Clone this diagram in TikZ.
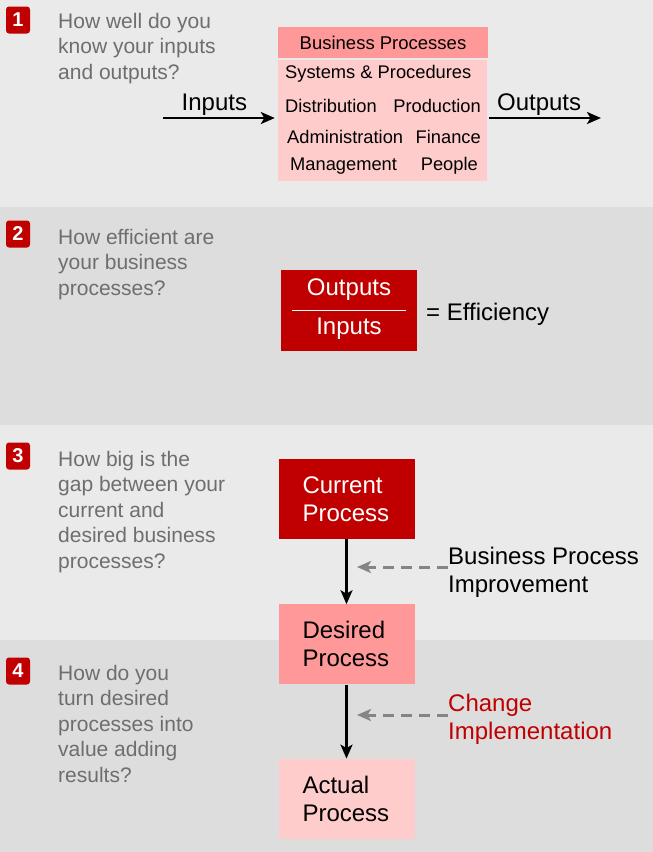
\documentclass[tikz,border=0pt]{standalone}
\usepackage{fontspec}
\setmainfont{Liberation Sans}
\usetikzlibrary{positioning,arrows.meta}

\definecolor{darkred}{HTML}{C00000}
\definecolor{midpink}{HTML}{FF9999}
\definecolor{lightpink}{HTML}{FFCCCC}
\definecolor{bandlight}{HTML}{EAEAEA}
\definecolor{banddark}{HTML}{DDDDDD}
\definecolor{qgray}{HTML}{6E6E6E}
\definecolor{dashgray}{HTML}{858585}

\begin{document}
\begin{tikzpicture}[x=1pt, y=-1pt, > = {Stealth[length=14pt, width=12pt, inset=3.5pt]}]
    \tikzset{
      badge/.style={
        fill=darkred, rounded corners=3pt, minimum width=24pt, minimum height=27pt,
        inner sep=0pt, text=white, font=\bfseries\fontsize{20}{20}\selectfont
      },
      question/.style={
        anchor=north west, inner sep=0pt, align=left, text=qgray,
        font=\fontsize{21}{25.5}\selectfont
      },
      cell/.style={inner sep=0pt, font=\fontsize{18.3}{18.3}\selectfont},
      biglabel/.style={inner sep=0pt, font=\fontsize{24}{28}\selectfont},
      procbox/.style={
        minimum width=136pt, minimum height=80pt, text width=88pt,
        inner xsep=24pt, inner ysep=0pt, align=left,
        font=\fontsize{24}{28}\selectfont
      },
      flow/.style={->, line width=2.6pt},
      gaparrow/.style={->, dashed, dash pattern=on 11pt off 7pt, dashgray, line width=3pt}
    }
    \useasboundingbox (0,0) rectangle (653,852);
    % bands
    \fill[bandlight] (0,0) rectangle (653,207);
    \fill[banddark] (0,207) rectangle (653,425);
    \fill[bandlight] (0,425) rectangle (653,640);
    \fill[banddark] (0,640) rectangle (653,852);

    % badges and questions
    \foreach \n/\y/\ty/\txt in {1/20/13/{How well do you\\know your inputs\\and outputs?},
                                2/234/229/{How efficient are\\your business\\processes?},
                                3/456/451/{How big is the\\gap between your\\current and\\desired business\\processes?},
                                4/671/665/{How do you\\turn desired\\processes into\\value adding\\results?}} {
      \node (badge\n) [badge] at (18,\y) {\n};
      \node (question\n) [question] at (58,\ty) {\txt};
    }

    % 1: business processes
    \node (bphead) [fill=midpink, minimum width=210pt, minimum height=31pt, inner sep=0pt,
                    font=\fontsize{18.5}{18.5}\selectfont] at (383,42.5) {Business Processes};
    \node (bpbody) [fill=lightpink, minimum width=209pt, minimum height=121pt, inner sep=0pt]
                   at (382.5,120.5) {};
    \node (systems) [cell, anchor=west] at (285,74) {Systems \& Procedures};
    \node (distribution) [cell, anchor=west] at (285,106) {Distribution};
    \node (production) [cell, anchor=east] at (481,106) {Production};
    \node (administration) [cell, anchor=west] at (287,137) {Administration};
    \node (finance) [cell, anchor=east] at (481,137) {Finance};
    \node (management) [cell, anchor=west] at (290,166) {Management};
    \node (people) [cell, anchor=east] at (478,166) {People};

    \coordinate (instart) at (163,118);
    \coordinate (outend) at (601,118);
    \draw[flow, shorten >=3pt] (instart) -- (instart -| bpbody.west)
      node (inputs) [biglabel, midway, above=1pt, xshift=-6pt] {Inputs};
    \draw[flow, shorten <=2pt] (bpbody.east |- outend) -- (outend)
      node (outputs) [biglabel, midway, above=1pt, xshift=-5pt] {Outputs};

    % 2: efficiency
    \node (ratio) [fill=darkred, minimum width=136pt, minimum height=81pt, inner sep=0pt]
                  at (349,310.5) {};
    \node (ratiotop) [biglabel, text=white] at (349,290) {Outputs};
    \node (ratiobottom) [biglabel, text=white] at (349,329) {Inputs};
    \draw[white, line width=1.5pt] ([xshift=11pt]ratio.west) -- ([xshift=-11pt]ratio.east);
    \node (efficiency) [biglabel, anchor=west] at (426,314) {= Efficiency};

    % 3 and 4: process chain
    \node (current) [procbox, fill=darkred, text=white] at (346.5,499) {Current\\Process};
    \node (desired) [procbox, fill=midpink, below=65pt of current] {Desired\\Process};
    \node (actual) [procbox, fill=lightpink, below=74pt of desired] {Actual\\Process};
    \draw[flow] (current) -- (desired);
    \draw[flow] (desired) -- (actual);

    \coordinate (tipA) at (357,567);
    \coordinate (tipB) at (357,715);
    \node (bpi) [biglabel, anchor=west, align=left] at (448,572) {Business Process\\Improvement};
    \node (change) [biglabel, anchor=west, align=left, text=darkred] at (448,719) {Change\\Implementation};
    \draw[gaparrow] (bpi.west |- tipA) -- (tipA);
    \draw[gaparrow] (change.west |- tipB) -- (tipB);

  \end{tikzpicture}
\end{document}
